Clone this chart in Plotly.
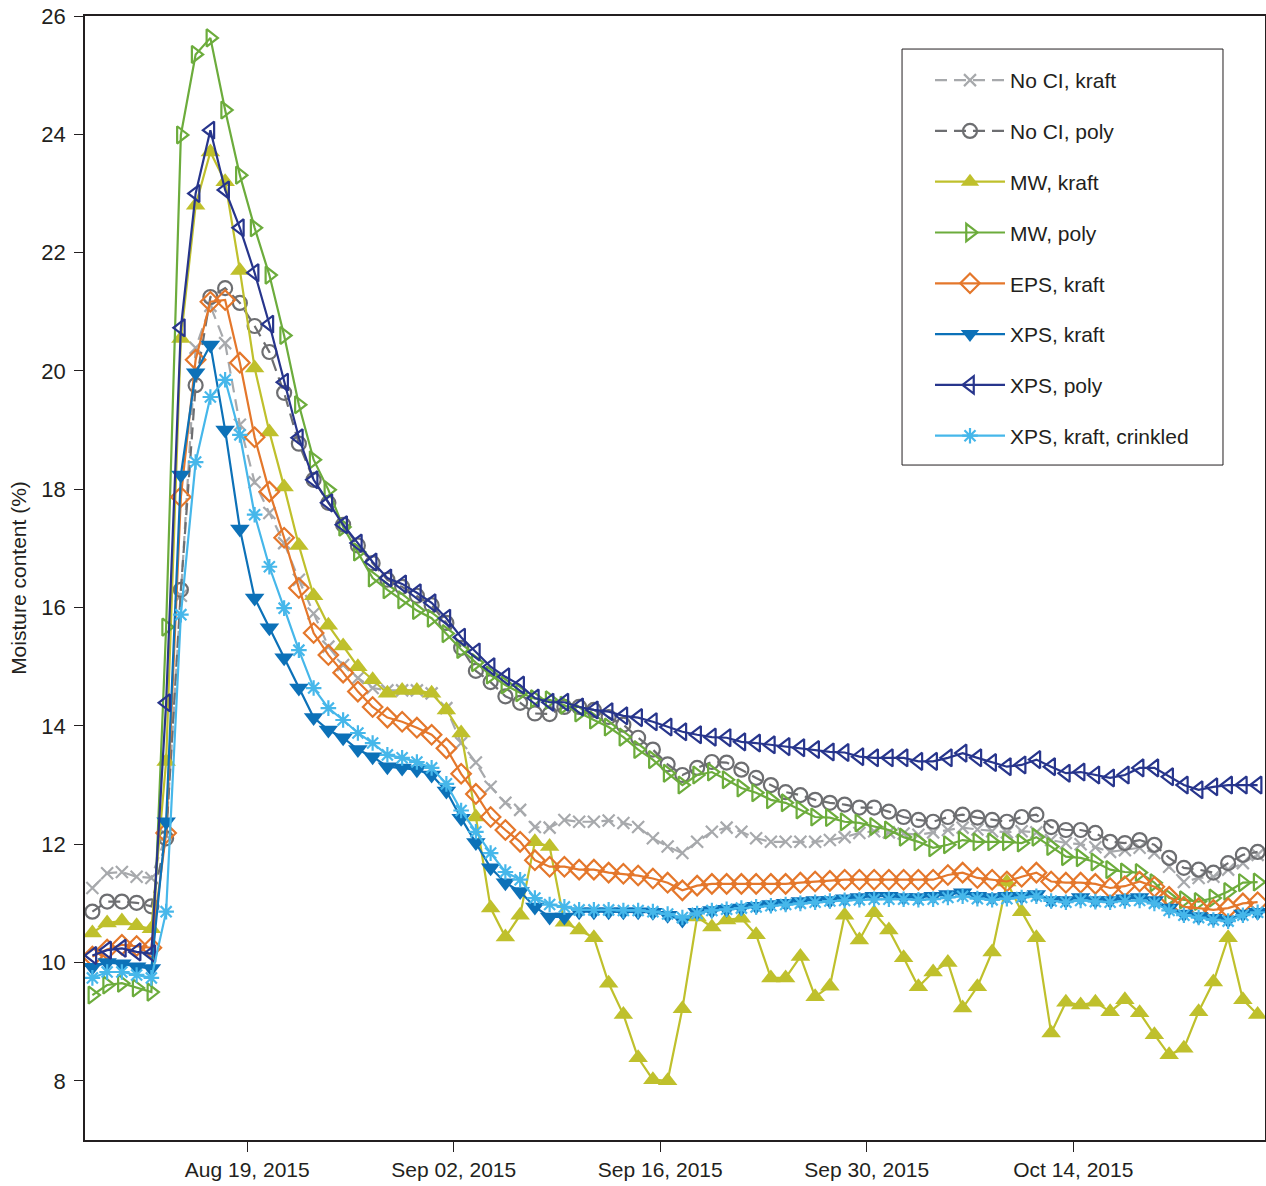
import pandas as pd
import plotly.graph_objects as go

# Daily readings (noon) from 2015-08-08 to 2015-10-26
dates = pd.date_range(start="2015-08-08 12:00", periods=80, freq="D")

no_ci_kraft = [11.26, 11.51, 11.53, 11.45, 11.43, 12.15, 16.2, 20.39, 21.1, 20.47,
               19.09, 18.12, 17.6, 17.09, 16.47, 15.9, 15.34, 15.03, 14.81, 14.64,
               14.6, 14.6, 14.6, 14.55, 14.3, 13.71, 13.38, 12.97, 12.7, 12.58,
               12.29, 12.28, 12.41, 12.38, 12.38, 12.4, 12.36, 12.29, 12.1, 11.96,
               11.85, 12.04, 12.21, 12.28, 12.21, 12.1, 12.04, 12.04, 12.04, 12.04,
               12.07, 12.12, 12.19, 12.22, 12.2, 12.18, 12.16, 12.2, 12.24, 12.28,
               12.25, 12.22, 12.2, 12.22, 12.2, 12.07, 12.02, 12.0, 11.95, 11.87,
               11.9, 11.94, 11.85, 11.62, 11.36, 11.43, 11.45, 11.57, 11.68, 11.82]

no_ci_poly = [10.86, 11.03, 11.03, 11.01, 10.95, 12.1, 16.3, 19.76, 21.25, 21.4,
              21.15, 20.76, 20.32, 19.63, 18.77, 18.16, 17.77, 17.4, 17.05, 16.75,
              16.47, 16.35, 16.2, 16.04, 15.74, 15.32, 14.93, 14.74, 14.5, 14.39,
              14.21, 14.2, 14.32, 14.32, 14.27, 14.15, 14.02, 13.8, 13.6, 13.35,
              13.17, 13.29, 13.39, 13.38, 13.26, 13.12, 13.0, 12.88, 12.83, 12.75,
              12.7, 12.67, 12.62, 12.62, 12.55, 12.46, 12.41, 12.38, 12.46, 12.5,
              12.45, 12.41, 12.38, 12.46, 12.5, 12.29, 12.24, 12.24, 12.19, 12.04,
              12.02, 12.07, 11.99, 11.77, 11.6, 11.57, 11.52, 11.68, 11.82, 11.87]

mw_kraft = [10.5, 10.67, 10.7, 10.62, 10.57, 13.4, 20.55, 22.8, 23.7, 23.2,
            21.7, 20.05, 18.97, 18.04, 17.05, 16.2, 15.7, 15.35, 15.0, 14.78,
            14.55, 14.6, 14.6, 14.55, 14.27, 13.88, 12.46, 10.92, 10.43, 10.8,
            12.04, 11.96, 10.68, 10.55, 10.42, 9.65, 9.12, 8.39, 8.02, 8.0,
            9.22, 10.77, 10.6, 10.72, 10.75, 10.47, 9.74, 9.74, 10.1, 9.42,
            9.6, 10.8, 10.38, 10.84, 10.55, 10.08, 9.59, 9.84, 10.0, 9.23,
            9.59, 10.18, 11.36, 10.86, 10.42, 8.81, 9.33, 9.28, 9.33, 9.17,
            9.37, 9.15, 8.78, 8.44, 8.55, 9.17, 9.67, 10.42, 9.37, 9.12]

mw_poly = [9.45, 9.62, 9.65, 9.57, 9.5, 15.67, 23.99, 25.35, 25.63, 24.41,
           23.31, 22.42, 21.62, 20.6, 19.43, 18.5, 17.99, 17.36, 16.94, 16.5,
           16.3, 16.13, 15.95, 15.82, 15.56, 15.29, 15.07, 14.86, 14.69, 14.56,
           14.46, 14.44, 14.35, 14.22, 14.1, 13.98, 13.81, 13.6, 13.43, 13.2,
           13.0, 13.17, 13.22, 13.09, 12.95, 12.87, 12.75, 12.7, 12.58, 12.46,
           12.45, 12.38, 12.36, 12.3, 12.24, 12.12, 12.04, 11.94, 11.99, 12.07,
           12.04, 12.04, 12.04, 12.02, 12.12, 11.96, 11.79, 11.77, 11.7, 11.57,
           11.53, 11.52, 11.35, 11.09, 11.06, 11.03, 11.09, 11.2, 11.35, 11.36]

eps_kraft = [10.1, 10.22, 10.3, 10.28, 10.25, 12.19, 17.87, 20.19, 21.17, 21.2,
             20.14, 18.88, 17.96, 17.18, 16.33, 15.57, 15.2, 14.9, 14.58, 14.32,
             14.14, 14.07, 13.97, 13.85, 13.62, 13.19, 12.85, 12.46, 12.24, 12.04,
             11.73, 11.62, 11.62, 11.57, 11.57, 11.52, 11.5, 11.47, 11.42, 11.35,
             11.22, 11.3, 11.33, 11.33, 11.33, 11.33, 11.33, 11.33, 11.35, 11.37,
             11.38, 11.4, 11.4, 11.4, 11.4, 11.4, 11.4, 11.4, 11.48, 11.52,
             11.43, 11.4, 11.37, 11.45, 11.52, 11.37, 11.35, 11.35, 11.33, 11.26,
             11.29, 11.37, 11.28, 11.11, 10.94, 10.92, 10.89, 10.92, 11.0, 11.02]

xps_kraft = [9.92, 10.0, 9.98, 9.93, 9.9, 12.38, 18.24, 19.97, 20.44, 19.0,
             17.33, 16.16, 15.66, 15.15, 14.64, 14.14, 13.93, 13.8, 13.6, 13.48,
             13.31, 13.29, 13.26, 13.17, 12.9, 12.44, 12.03, 11.6, 11.35, 11.2,
             10.94, 10.77, 10.77, 10.86, 10.86, 10.86, 10.86, 10.86, 10.85, 10.8,
             10.72, 10.85, 10.88, 10.9, 10.92, 10.95, 10.98, 11.0, 11.03, 11.05,
             11.05, 11.08, 11.1, 11.12, 11.12, 11.1, 11.1, 11.12, 11.15, 11.18,
             11.12, 11.1, 11.12, 11.12, 11.15, 11.05, 11.05, 11.1, 11.05, 11.05,
             11.08, 11.1, 11.05, 10.92, 10.82, 10.78, 10.75, 10.72, 10.82, 10.85]

xps_poly = [10.12, 10.21, 10.24, 10.18, 10.15, 14.39, 20.73, 23.0, 24.07, 23.06,
            22.42, 21.66, 20.79, 19.81, 18.87, 18.16, 17.77, 17.4, 17.09, 16.77,
            16.5, 16.4, 16.25, 16.08, 15.82, 15.5, 15.25, 15.0, 14.83, 14.69,
            14.47, 14.4, 14.4, 14.32, 14.27, 14.24, 14.17, 14.14, 14.07, 13.98,
            13.9, 13.85, 13.81, 13.8, 13.73, 13.71, 13.68, 13.65, 13.63, 13.6,
            13.56, 13.55, 13.48, 13.46, 13.46, 13.46, 13.4, 13.4, 13.46, 13.54,
            13.46, 13.38, 13.31, 13.34, 13.43, 13.31, 13.2, 13.22, 13.17, 13.12,
            13.17, 13.29, 13.29, 13.14, 13.0, 12.92, 12.97, 13.0, 13.0, 13.0]

xps_kraft_crinkled = [9.74, 9.84, 9.84, 9.79, 9.74, 10.86, 15.88, 18.46, 19.56, 19.85,
                      18.92, 17.57, 16.69, 15.99, 15.28, 14.64, 14.3, 14.1, 13.88, 13.71,
                      13.51, 13.46, 13.39, 13.29, 13.02, 12.57, 12.21, 11.85, 11.53, 11.4,
                      11.09, 10.98, 10.94, 10.89, 10.89, 10.89, 10.88, 10.88, 10.86, 10.82,
                      10.76, 10.83, 10.88, 10.9, 10.92, 10.94, 10.96, 10.98, 11.0, 11.02,
                      11.04, 11.05, 11.06, 11.07, 11.07, 11.07, 11.06, 11.07, 11.1, 11.12,
                      11.08, 11.06, 11.08, 11.1, 11.12, 11.04, 11.02, 11.05, 11.03, 11.02,
                      11.04, 11.05, 11.0, 10.88, 10.8, 10.76, 10.72, 10.7, 10.8, 10.85]

series_names = ["No CI, kraft", "No CI, poly", "MW, kraft", "MW, poly",
                "EPS, kraft", "XPS, kraft", "XPS, poly", "XPS, kraft, crinkled"]
series_values = [no_ci_kraft, no_ci_poly, mw_kraft, mw_poly,
                 eps_kraft, xps_kraft, xps_poly, xps_kraft_crinkled]

x_tick_dates = ["2015-08-19", "2015-09-02", "2015-09-16", "2015-09-30", "2015-10-14"]
x_tick_labels = ["Aug 19, 2015", "Sep 02, 2015", "Sep 16, 2015", "Sep 30, 2015", "Oct 14, 2015"]
y_ticks = [8, 10, 12, 14, 16, 18, 20, 22, 24, 26]

styles = [
    dict(color="#a7a9ac", dash="12px,7px", symbol="x-thin-open", size=12),
    dict(color="#6d6e71", dash="12px,7px", symbol="circle-open", size=14),
    dict(color="#bfc02c", dash="solid", symbol="triangle-up", size=17),
    dict(color="#6cac3c", dash="solid", symbol="triangle-right-open", size=15),
    dict(color="#e4772b", dash="solid", symbol="diamond-open", size=15),
    dict(color="#0c71b8", dash="solid", symbol="triangle-down", size=17),
    dict(color="#27358c", dash="solid", symbol="triangle-left-open", size=15),
    dict(color="#46b7ea", dash="solid", symbol="asterisk-open", size=13),
]

FONT = "Liberation Sans, Arial, sans-serif"
TXT = "#231f20"

fig = go.Figure()
for name, vals, st in zip(series_names, series_values, styles):
    assert len(vals) == len(dates)
    filled = st["symbol"] in ("triangle-up", "triangle-down")
    fig.add_trace(go.Scatter(
        x=dates, y=vals, name=name, mode="lines+markers",
        legendgroup=name,
        line=dict(color=st["color"], width=2.2, dash=st["dash"]),
        marker=dict(symbol=st["symbol"], size=st["size"], color=st["color"],
                    line=dict(color=st["color"], width=0 if filled else 2.2)),
    ))

axis_font = dict(family=FONT, size=21, color=TXT)

# legend frame (paper coords of the reference box)
fig.add_shape(type="rect", xref="paper", yref="paper",
              x0=0.6924, x1=0.9644, y0=0.6005, y1=0.9706,
              line=dict(color=TXT, width=1), fillcolor="white", layer="below")

fig.update_layout(
    width=1266, height=1186,
    margin=dict(l=85, r=1, t=16, b=46, autoexpand=False),
    paper_bgcolor="white", plot_bgcolor="white",
    font=axis_font,
    showlegend=True,
    legend=dict(
        x=0.7161, y=0.9609, xanchor="left", yanchor="top",
        bgcolor="rgba(0,0,0,0)", borderwidth=0,
        font=dict(family=FONT, size=21, color=TXT),
        tracegroupgap=20.5, itemwidth=70,
    ),
    xaxis=dict(
        range=["2015-08-08", "2015-10-27"],
        tickvals=x_tick_dates, ticktext=x_tick_labels,
        ticks="outside", ticklen=10, tickwidth=1, tickcolor=TXT,
        showline=True, linecolor=TXT, linewidth=1.5, mirror=True,
        showgrid=False, zeroline=False, automargin=False,
        tickfont=axis_font,
    ),
    yaxis=dict(
        range=[7, 26],
        tickvals=y_ticks,
        ticks="outside", ticklen=9, tickwidth=1, tickcolor=TXT,
        ticklabelstandoff=4,
        showline=True, linecolor=TXT, linewidth=1.5, mirror=True,
        showgrid=False, zeroline=False, automargin=False,
        tickfont=dict(family=FONT, size=22, color=TXT),
        title=dict(text="Moisture content (%)", standoff=9,
                   font=dict(family=FONT, size=21, color=TXT)),
    ),
)

fig.write_html("out.html")
